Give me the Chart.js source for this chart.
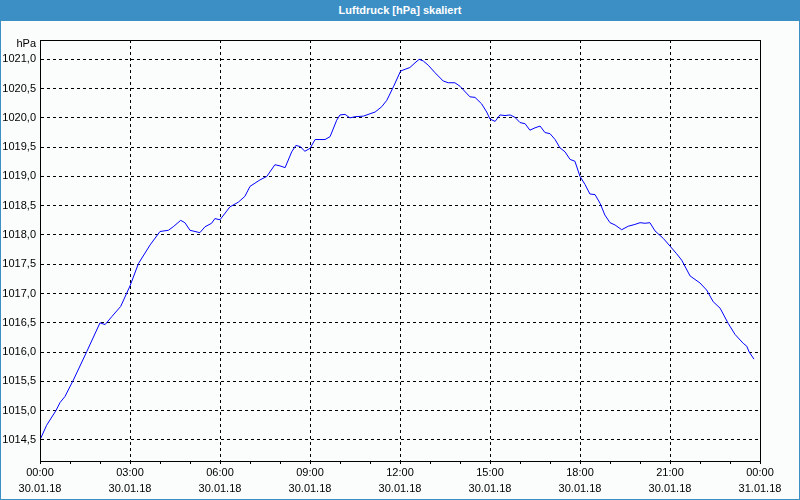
<!DOCTYPE html>
<html>
<head>
<meta charset="utf-8">
<script src="https://cdn.jsdelivr.net/npm/chart.js@4/dist/chart.umd.min.js"></script>
<style>
    html, body { margin: 0; padding: 0; background: #fbfdfc; }
    #wrap {
        width: 800px; height: 500px; box-sizing: border-box;
        border: 1px solid #3c8fc5; border-top: none; background: #fbfdfc;
    }
    #title {
        height: 21px; margin: 0 -1px; background: #3c8fc5; color: #fff;
        font: bold 11px "Liberation Sans", Arial, sans-serif;
        line-height: 20px; text-align: center;
    }
    canvas { display: block; }
</style>
</head>
<body>
<div id="wrap">
    <div id="title">Luftdruck [hPa] skaliert</div>
    <canvas id="chart" width="798" height="478"></canvas>
</div>
<script>
    // Stunden ab 30.01.18 00:00
    const hours = [
        0.00, 0.22, 0.53, 0.67, 0.83, 1.11, 1.56, 2.00, 2.17, 2.40,
        2.69, 3.00, 3.28, 3.67, 4.00, 4.28, 4.44, 4.69, 4.83, 5.00,
        5.33, 5.50, 5.72, 5.83, 6.00, 6.33, 6.61, 6.83, 7.00, 7.33,
        7.56, 7.83, 8.00, 8.17, 8.39, 8.53, 8.67, 8.83, 9.00, 9.17,
        9.50, 9.67, 9.89, 10.00, 10.17, 10.33, 10.50, 10.78, 11.00, 11.17,
        11.39, 11.56, 11.78, 12.02, 12.17, 12.33, 12.50, 12.64, 12.78, 12.94,
        13.17, 13.44, 13.61, 13.83, 14.00, 14.33, 14.50, 14.72, 14.89, 15.00,
        15.17, 15.33, 15.50, 15.67, 15.83, 16.00, 16.17, 16.33, 16.50, 16.67,
        16.83, 17.00, 17.17, 17.33, 17.50, 17.67, 17.83, 18.00, 18.17, 18.33,
        18.50, 18.67, 18.83, 19.00, 19.17, 19.39, 19.61, 19.83, 20.00, 20.17,
        20.33, 20.50, 20.78, 21.00, 21.22, 21.39, 21.67, 22.00, 22.22, 22.44,
        22.67, 22.94, 23.17, 23.44, 23.56, 23.64, 23.80
    ];
    const pressure = [
        1014.50, 1014.75, 1015.00, 1015.14, 1015.24, 1015.52, 1016.01, 1016.50, 1016.47, 1016.61,
        1016.78, 1017.13, 1017.51, 1017.83, 1018.06, 1018.08, 1018.14, 1018.25, 1018.21, 1018.08,
        1018.04, 1018.14, 1018.20, 1018.28, 1018.26, 1018.48, 1018.56, 1018.66, 1018.83, 1018.94,
        1019.00, 1019.20, 1019.18, 1019.15, 1019.42, 1019.53, 1019.51, 1019.43, 1019.48, 1019.63,
        1019.63, 1019.68, 1019.96, 1020.05, 1020.06, 1020.00, 1020.02, 1020.03, 1020.07, 1020.10,
        1020.19, 1020.30, 1020.53, 1020.80, 1020.83, 1020.86, 1020.94, 1021.00, 1020.97, 1020.90,
        1020.77, 1020.63, 1020.60, 1020.60, 1020.54, 1020.36, 1020.35, 1020.24, 1020.10, 1019.98,
        1019.94, 1020.05, 1020.04, 1020.05, 1020.01, 1019.92, 1019.90, 1019.79, 1019.83, 1019.86,
        1019.75, 1019.73, 1019.63, 1019.49, 1019.42, 1019.29, 1019.26, 1019.00, 1018.86, 1018.70,
        1018.69, 1018.54, 1018.34, 1018.21, 1018.17, 1018.09, 1018.15, 1018.18, 1018.21, 1018.20,
        1018.21, 1018.07, 1017.94, 1017.81, 1017.68, 1017.57, 1017.30, 1017.18, 1017.06, 1016.86,
        1016.75, 1016.49, 1016.30, 1016.15, 1016.10, 1016.00, 1015.88
    ];
    const timeLabels = ['00:00', '03:00', '06:00', '09:00', '12:00', '15:00', '18:00', '21:00', '00:00'];
    const dateLabels = ['30.01.18', '30.01.18', '30.01.18', '30.01.18', '30.01.18', '30.01.18', '30.01.18', '30.01.18', '31.01.18'];
    const yMin = 1014.14;
    const yMax = 1021.33;
    const yStep = 0.5;
    const unitLabel = 'hPa';

    const tickFont = { family: '"Liberation Sans Narrow", "Liberation Sans", Arial, sans-serif', size: 11, lineHeight: '16px' };
    const dash = [3, 3];

    function fixSize(size, prop) {
        return function (scale) {
            scale[prop] = size;
            scale.paddingLeft = 0;
            scale.paddingRight = 0;
            scale.paddingTop = 0;
            scale.paddingBottom = 0;
        };
    }

    const framePlugin = {
        id: 'frame',
        afterDraw: function (chart) {
            const a = chart.chartArea;
            const ctx = chart.ctx;
            ctx.save();
            ctx.strokeStyle = '#000';
            ctx.lineWidth = 1;
            ctx.strokeRect(a.left + 0.5, a.top + 0.5, a.right - a.left, a.bottom - a.top);
            ctx.fillStyle = '#000';
            ctx.font = '11px ' + tickFont.family;
            ctx.textAlign = 'right';
            ctx.textBaseline = 'middle';
            ctx.fillText(unitLabel, a.left - 4, a.top + 4);
            ctx.restore();
        }
    };

    new Chart(document.getElementById('chart').getContext('2d'), {
        type: 'line',
        data: {
            datasets: [{
                label: 'Luftdruck',
                data: hours.map(function (h, i) { return { x: h, y: pressure[i] }; }),
                borderColor: '#0000ff',
                borderWidth: 1,
                pointRadius: 0,
                tension: 0,
                fill: false
            }]
        },
        options: {
            responsive: false,
            animation: false,
            layout: { padding: { left: 0, top: 19, right: 39, bottom: 0 } },
            plugins: {
                legend: { display: false },
                tooltip: { enabled: false }
            },
            scales: {
                x: {
                    type: 'linear',
                    min: 0,
                    max: 24,
                    afterFit: fixSize(38, 'height'),
                    ticks: {
                        stepSize: 1,
                        autoSkip: false,
                        maxRotation: 0,
                        includeBounds: false,
                        color: '#000',
                        font: tickFont,
                        padding: 1,
                        callback: function (v) {
                            if (v % 3 !== 0) return '';
                            const i = v / 3;
                            return [timeLabels[i], dateLabels[i]];
                        }
                    },
                    grid: {
                        color: function (c) {
                            return c.tick && c.tick.value % 3 === 0 ? '#000' : 'transparent';
                        },
                        tickColor: '#000',
                        tickLength: 3,
                        lineWidth: 1
                    },
                    border: { color: '#000', dash: dash }
                },
                y: {
                    min: yMin,
                    max: yMax,
                    afterFit: fixSize(39, 'width'),
                    ticks: {
                        stepSize: yStep,
                        includeBounds: false,
                        color: '#000',
                        font: tickFont,
                        padding: 4,
                        callback: function (v) {
                            return v.toFixed(1).replace('.', ',');
                        }
                    },
                    grid: {
                        color: '#000',
                        drawTicks: false,
                        lineWidth: 1
                    },
                    border: { color: '#000', dash: dash }
                }
            }
        },
        plugins: [framePlugin]
    });
</script>
</body>
</html>
